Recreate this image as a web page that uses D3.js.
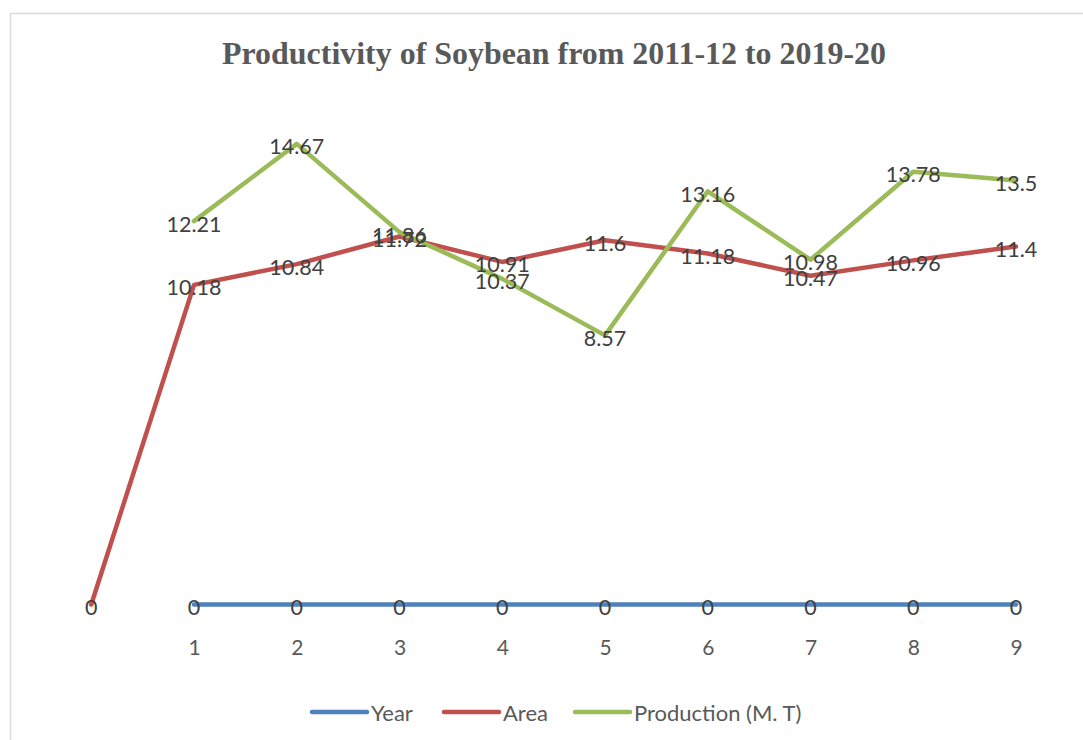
<!DOCTYPE html>
<html>
<head>
<meta charset="utf-8">
<script src="https://cdn.jsdelivr.net/npm/d3@7"></script>
<style>
  html, body { margin: 0; padding: 0; background: #ffffff; }
  svg { display: block; }
</style>
</head>
<body>
<svg id="chart" width="1083" height="740"></svg>
<script>
// Category slots along the x axis (first slot carries no tick label)
const categories = ["", "1", "2", "3", "4", "5", "6", "7", "8", "9"];

// Series values per category (null = no point)
const yearValues = [null, 0, 0, 0, 0, 0, 0, 0, 0, 0];
const areaValues = [0, 10.18, 10.84, 11.72, 10.91, 11.6, 11.18, 10.47, 10.96, 11.4];
const productionValues = [null, 12.21, 14.67, 11.86, 10.37, 8.57, 13.16, 10.98, 13.78, 13.5];

const seriesNames = ["Year", "Area", "Production (M. T)"];
const seriesColors = ["#4F81BD", "#C0504D", "#9BBB59"];

const chartTitle = "Productivity of Soybean from 2011-12 to 2019-20";
const yDomain = [0, 16];

const series = [yearValues, areaValues, productionValues].map((vals, i) => ({
  name: seriesNames[i],
  color: seriesColors[i],
  points: vals.map((v, j) => ({ cat: categories[j], idx: j, value: v }))
}));

const svg = d3.select("#chart");

// Outer chart frame
svg.append("rect")
  .attr("x", 10.5).attr("y", 13.5)
  .attr("width", 1200).attr("height", 900)
  .attr("fill", "#ffffff")
  .attr("stroke", "#d9d9d9").attr("stroke-width", 1.5);

// Scales
const x = d3.scalePoint()
  .domain(d3.range(categories.length))
  .range([91.25, 1016]);

const y = d3.scaleLinear()
  .domain(yDomain)
  .range([604.5, 604.5 - 16 * 31.4]);

// Title
svg.append("text")
  .attr("x", 554).attr("y", 64)
  .attr("text-anchor", "middle")
  .attr("font-family", "'Liberation Serif', 'Times New Roman', serif")
  .attr("font-weight", "bold")
  .attr("font-size", 31)
  .attr("fill", "#595959")
  .attr("textLength", 664)
  .attr("lengthAdjust", "spacingAndGlyphs")
  .text(chartTitle);

// X axis tick labels (no axis line drawn)
const xAxis = d3.axisBottom(x)
  .tickFormat(i => categories[i])
  .tickSize(0)
  .tickPadding(0);

const axisG = svg.append("g")
  .attr("transform", "translate(0, 646)")
  .call(xAxis);
axisG.select(".domain").remove();
axisG.selectAll("text")
  .attr("font-family", "Lato, 'Open Sans', sans-serif")
  .attr("font-size", 21)
  .attr("fill", "#595959")
  .attr("dy", null)
  .attr("y", 0)
  .attr("dominant-baseline", "central");

// Lines
const line = d3.line()
  .defined(d => d.value !== null)
  .x(d => x(d.idx))
  .y(d => y(d.value));

svg.append("g").selectAll("path")
  .data(series)
  .join("path")
  .attr("d", s => line(s.points))
  .attr("fill", "none")
  .attr("stroke", s => s.color)
  .attr("stroke-width", 4.5)
  .attr("stroke-linejoin", "round")
  .attr("stroke-linecap", "round");

// Data labels centred on each point
const labelG = svg.append("g");
series.forEach(s => {
  labelG.selectAll(null)
    .data(s.points.filter(d => d.value !== null))
    .join("text")
    .attr("x", d => x(d.idx))
    .attr("y", d => y(d.value) + 2.5)
    .attr("text-anchor", "middle")
    .attr("dominant-baseline", "central")
    .attr("font-family", "Lato, 'Open Sans', sans-serif")
    .attr("font-size", 21.5)
    .attr("fill", "#404040")
    .text(d => String(d.value));
});

// Legend
const legendItems = [
  { name: seriesNames[0], color: seriesColors[0], x: 312 },
  { name: seriesNames[1], color: seriesColors[1], x: 444 },
  { name: seriesNames[2], color: seriesColors[2], x: 575 }
];
const legend = svg.append("g").attr("transform", "translate(0, 712)");
const li = legend.selectAll("g")
  .data(legendItems)
  .join("g")
  .attr("transform", d => `translate(${d.x}, 0)`);
li.append("line")
  .attr("x1", 0).attr("x2", 55)
  .attr("y1", 0).attr("y2", 0)
  .attr("stroke", d => d.color)
  .attr("stroke-width", 4.5)
  .attr("stroke-linecap", "round");
li.append("text")
  .attr("x", 59).attr("y", 0)
  .attr("dominant-baseline", "central")
  .attr("font-family", "Lato, 'Open Sans', sans-serif")
  .attr("font-size", 22)
  .attr("fill", "#595959")
  .text(d => d.name);
</script>
</body>
</html>
